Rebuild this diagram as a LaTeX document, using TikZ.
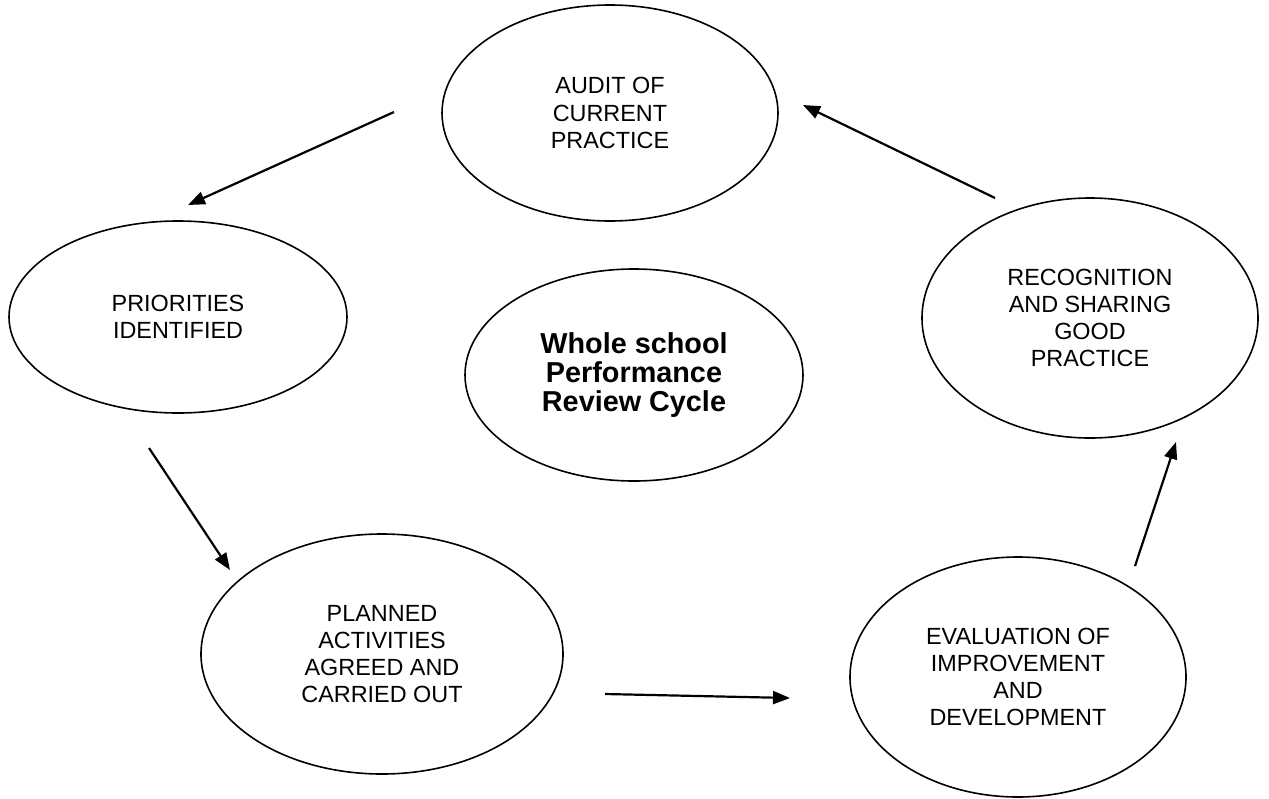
\documentclass[tikz,border=0pt]{standalone}
\usepackage{fontspec}
\setmainfont{Liberation Sans}
\usepackage{tikz}
\usetikzlibrary{shapes.geometric,arrows.meta,positioning}

\begin{document}
\begin{tikzpicture}[
        x=0.5pt, y=-0.5pt,
        stage/.style={ellipse, draw, line width=0.8pt, inner sep=0pt, align=center, font=\fontsize{11.7}{13.6}\selectfont},
        hub/.style={stage, font=\fontsize{14.4}{14.6}\selectfont\bfseries},
        arrow/.style={-{Triangle[length=8.5pt,width=6.5pt]}, line width=1.1pt}
    ]
        \useasboundingbox (0,0) rectangle (1269,798);

        % Stages of the cycle
        \node[stage, minimum width=168pt, minimum height=108pt] (audit) at (610,113) {AUDIT OF\\CURRENT\\PRACTICE};
        \node[stage, minimum width=169pt, minimum height=96pt] (priorities) at (178,317) {PRIORITIES\\IDENTIFIED};
        \node[stage, minimum width=181pt, minimum height=120pt] (planned) at (382,654) {PLANNED\\ACTIVITIES\\AGREED AND\\CARRIED OUT};
        \node[stage, minimum width=168pt, minimum height=120pt] (evaluation) at (1018,677) {EVALUATION OF\\IMPROVEMENT\\AND\\DEVELOPMENT};
        \node[stage, minimum width=168pt, minimum height=120pt] (recognition) at (1090,318) {RECOGNITION\\AND SHARING\\GOOD\\PRACTICE};

        % Centre
        \node[hub, minimum width=169pt, minimum height=106pt] (cycle) at (634,375) {Whole school\\Performance\\Review Cycle};

        % Arrow ends
        \coordinate (auditOut) at (394,112);
        \coordinate (prioritiesIn) at (188,205);
        \coordinate (prioritiesOut) at (149,448);
        \coordinate (plannedIn) at (230,570);
        \coordinate (plannedOut) at (605,694);
        \coordinate (evaluationIn) at (790,698);
        \coordinate (evaluationOut) at (1135,566);
        \coordinate (recognitionIn) at (1176,442);
        \coordinate (recognitionOut) at (995,198);
        \coordinate (auditIn) at (803,105);

        % Arrows
        \draw[arrow] (auditOut) -- (prioritiesIn);
        \draw[arrow] (prioritiesOut) -- (plannedIn);
        \draw[arrow] (plannedOut) -- (evaluationIn);
        \draw[arrow] (evaluationOut) -- (recognitionIn);
        \draw[arrow] (recognitionOut) -- (auditIn);

    \end{tikzpicture}
\end{document}
